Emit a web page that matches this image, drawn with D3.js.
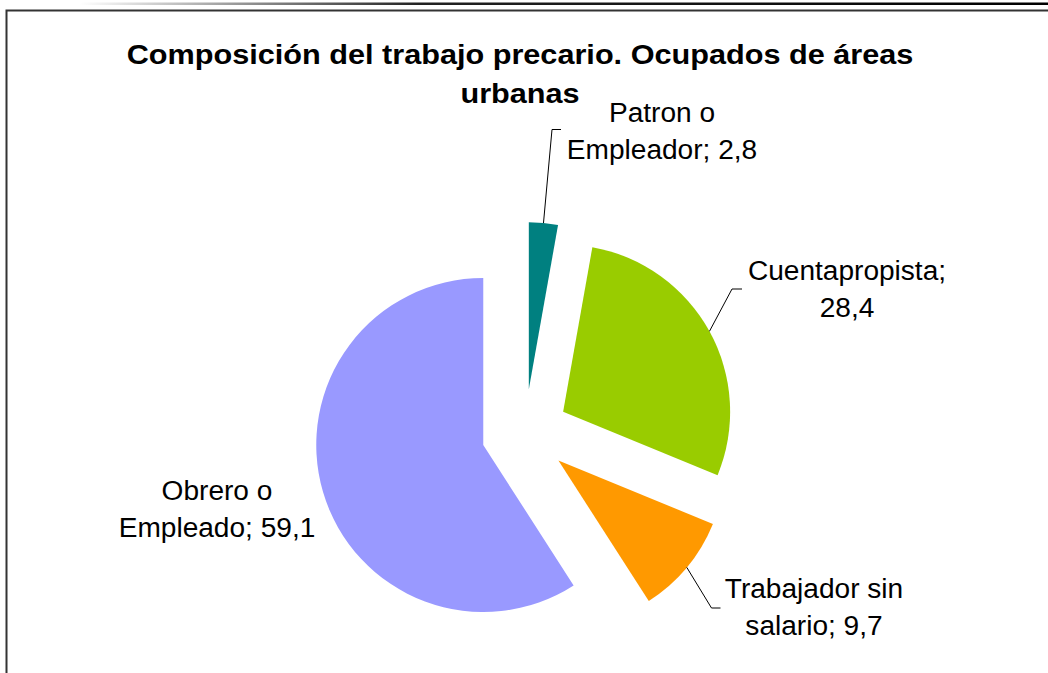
<!DOCTYPE html>
<html><head><meta charset="utf-8">
<script src="https://cdn.jsdelivr.net/npm/d3@7"></script>
<style>body{margin:0;background:#fff}svg{display:block}</style>
</head><body>
<svg id="chart" width="1048" height="673"></svg>
<script>
const categories = ["Patron o Empleador", "Cuentapropista", "Trabajador sin salario", "Obrero o Empleado"];
const values = [2.8, 28.4, 9.7, 59.1];
const valueLabels = ["2,8", "28,4", "9,7", "59,1"];
const labelLines = [["Patron o", "Empleador; 2,8"], ["Cuentapropista;", "28,4"], ["Trabajador sin", "salario; 9,7"], ["Obrero o", "Empleado; 59,1"]];
const colors = ["#008080", "#99CC00", "#FF9900", "#9999FF"];
const titleLines = ["Composición del trabajo precario. Ocupados de áreas", "urbanas"];

// layout (positions of labels and leader elbows)
const labelPos = [[662, 122], [847, 280], [814, 598], [217, 500]];
const leaderElbow = [[552, 129.5, 561], [732, 289, 742], [711.5, 608, 720.5], null];

const svg = d3.select("#chart");
const W = 1048, H = 673;

// top decorative line
const defs = svg.append("defs");
const g1 = defs.append("linearGradient").attr("id", "tl").attr("x1", "0").attr("x2", "1");
g1.append("stop").attr("offset", "0").attr("stop-color", "#fff");
g1.append("stop").attr("offset", "0.35").attr("stop-color", "#222");
g1.append("stop").attr("offset", "1").attr("stop-color", "#000");
svg.append("rect").attr("x", 80).attr("y", 2.5).attr("width", W - 80).attr("height", 2.5).attr("fill", "url(#tl)");

// frame
svg.append("path").attr("d", `M6.5,${H} V10.5 H${W}`).attr("fill", "none").attr("stroke", "#333").attr("stroke-width", 2);

// title
const title = svg.append("g").attr("font-family", "'Liberation Sans', Arial, sans-serif").attr("font-weight", "bold").attr("font-size", 27).attr("fill", "#000");
titleLines.forEach((t, i) => {
  title.append("text").attr("transform", `translate(520,${64 + i * 38.5}) scale(1.135,1)`).attr("text-anchor", "middle").text(t);
});

// pie
const cx = 525, cy = 432.7, r = 167, explode = 43.5;
const pie = d3.pie().sort(null).value(d => d)(values);
const arc = d3.arc().innerRadius(0).outerRadius(r);
const g = svg.append("g").attr("transform", `translate(${cx},${cy})`);
pie.forEach((p, i) => {
  const mid = (p.startAngle + p.endAngle) / 2;
  const ox = Math.sin(mid) * explode, oy = -Math.cos(mid) * explode;
  g.append("path").attr("d", arc(p)).attr("fill", colors[i]).attr("transform", `translate(${ox},${oy})`);
  const e = leaderElbow[i];
  if (e) {
    const sx = cx + ox + Math.sin(mid) * r, sy = cy + oy - Math.cos(mid) * r;
    svg.append("path").attr("d", `M${sx},${sy} L${e[0]},${e[1]} H${e[2]}`).attr("fill", "none").attr("stroke", "#000").attr("stroke-width", 1);
  }
});

// labels
const lab = svg.append("g").attr("font-family", "'Liberation Sans', Arial, sans-serif").attr("font-size", 27).attr("fill", "#000");
labelLines.forEach((lines, i) => {
  lines.forEach((t, j) => {
    lab.append("text").attr("transform", `translate(${labelPos[i][0]},${labelPos[i][1] + j * 36.5}) scale(1.04,1)`).attr("text-anchor", "middle").text(t);
  });
});
</script>
</body></html>
